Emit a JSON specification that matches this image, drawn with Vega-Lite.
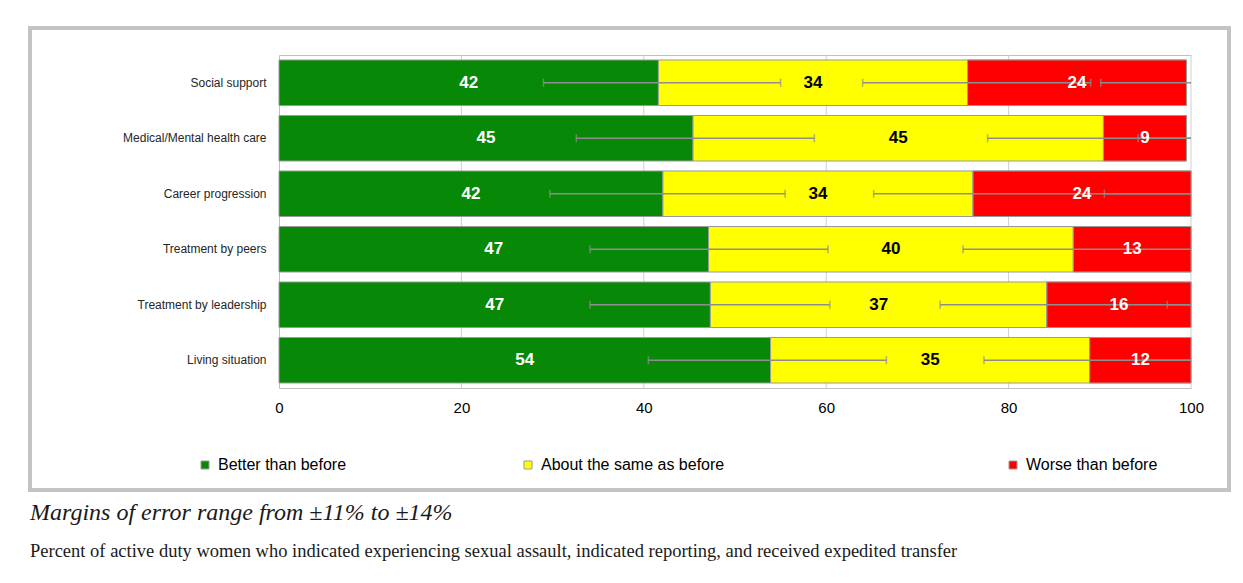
{
  "$schema": "https://vega.github.io/schema/vega-lite/v6.json",
  "width": 1199,
  "height": 462,
  "autosize": {"type": "none"},
  "padding": {"left": 30, "top": 28, "right": 14, "bottom": 93},
  "background": "white",
  "config": {
    "view": {"stroke": "#c3c3c3", "strokeWidth": 4},
    "font": "Liberation Sans"
  },
  "title": {
    "text": "Margins of error range from ±11% to ±14%",
    "subtitle": "Percent of active duty women who indicated experiencing sexual assault, indicated reporting, and received expedited transfer",
    "orient": "bottom",
    "anchor": "start",
    "offset": 11,
    "font": "Liberation Serif",
    "fontStyle": "italic",
    "fontWeight": "normal",
    "fontSize": 24,
    "color": "#1a1a1a",
    "subtitleFont": "Liberation Serif",
    "subtitleFontSize": 18.5,
    "subtitleColor": "#1a1a1a",
    "subtitlePadding": 17
  },
  "datasets": {
    "bars": [
      {"cat": "Social support", "resp": "Better than before", "k": 1, "pct": 41.6, "label": 42},
      {"cat": "Social support", "resp": "About the same as before", "k": 2, "pct": 33.9, "label": 34},
      {"cat": "Social support", "resp": "Worse than before", "k": 3, "pct": 24.0, "label": 24},
      {"cat": "Medical/Mental health care", "resp": "Better than before", "k": 1, "pct": 45.4, "label": 45},
      {"cat": "Medical/Mental health care", "resp": "About the same as before", "k": 2, "pct": 45.0, "label": 45},
      {"cat": "Medical/Mental health care", "resp": "Worse than before", "k": 3, "pct": 9.1, "label": 9},
      {"cat": "Career progression", "resp": "Better than before", "k": 1, "pct": 42.1, "label": 42},
      {"cat": "Career progression", "resp": "About the same as before", "k": 2, "pct": 34.0, "label": 34},
      {"cat": "Career progression", "resp": "Worse than before", "k": 3, "pct": 23.9, "label": 24},
      {"cat": "Treatment by peers", "resp": "Better than before", "k": 1, "pct": 47.1, "label": 47},
      {"cat": "Treatment by peers", "resp": "About the same as before", "k": 2, "pct": 40.0, "label": 40},
      {"cat": "Treatment by peers", "resp": "Worse than before", "k": 3, "pct": 12.9, "label": 13},
      {"cat": "Treatment by leadership", "resp": "Better than before", "k": 1, "pct": 47.3, "label": 47},
      {"cat": "Treatment by leadership", "resp": "About the same as before", "k": 2, "pct": 36.9, "label": 37},
      {"cat": "Treatment by leadership", "resp": "Worse than before", "k": 3, "pct": 15.8, "label": 16},
      {"cat": "Living situation", "resp": "Better than before", "k": 1, "pct": 53.9, "label": 54},
      {"cat": "Living situation", "resp": "About the same as before", "k": 2, "pct": 35.0, "label": 35},
      {"cat": "Living situation", "resp": "Worse than before", "k": 3, "pct": 11.1, "label": 12}
    ],
    "errs": [
      {"cat": "Social support", "lo": 29.0, "hi": 55.0},
      {"cat": "Social support", "lo": 64.0, "hi": 89.0},
      {"cat": "Social support", "lo": 90.1, "hi": 100},
      {"cat": "Medical/Mental health care", "lo": 32.6, "hi": 58.7},
      {"cat": "Medical/Mental health care", "lo": 77.7, "hi": 100},
      {"cat": "Medical/Mental health care", "lo": 94.2, "hi": 100},
      {"cat": "Career progression", "lo": 29.7, "hi": 55.5},
      {"cat": "Career progression", "lo": 65.2, "hi": 100},
      {"cat": "Career progression", "lo": 90.5, "hi": 100},
      {"cat": "Treatment by peers", "lo": 34.1, "hi": 60.2},
      {"cat": "Treatment by peers", "lo": 75.0, "hi": 100},
      {"cat": "Treatment by leadership", "lo": 34.1, "hi": 60.4},
      {"cat": "Treatment by leadership", "lo": 72.5, "hi": 100},
      {"cat": "Treatment by leadership", "lo": 97.4, "hi": 100},
      {"cat": "Living situation", "lo": 40.5, "hi": 66.6},
      {"cat": "Living situation", "lo": 77.3, "hi": 100},
      {"cat": "Living situation", "lo": 94.7, "hi": 100}
    ],
    "grid": [{"g": 20}, {"g": 40}, {"g": 60}, {"g": 80}, {"g": 100}]
  },
  "resolve": {"axis": {"x": "independent"}},
  "layer": [
    {
      "data": {"name": "grid"},
      "mark": {"type": "rule", "color": "#cfcfcf", "strokeWidth": 1},
      "encoding": {
        "x": {"field": "g", "type": "quantitative", "axis": null},
        "y": {"datum": "Social support", "type": "nominal", "bandPosition": -0.11},
        "y2": {"datum": "Living situation", "bandPosition": 1.11}
      }
    },
    {
      "data": {"name": "bars"},
      "transform": [
        {"stack": "pct", "groupby": ["cat"], "sort": [{"field": "k", "order": "ascending"}], "as": ["x0", "x1"]}
      ],
      "mark": {"type": "bar", "stroke": "#9a9a9a", "strokeWidth": 1},
      "encoding": {
        "y": {
          "field": "cat", "type": "nominal", "sort": null,
          "scale": {
            "domain": ["Social support", "Medical/Mental health care", "Career progression", "Treatment by peers", "Treatment by leadership", "Living situation"],
            "range": [27, 360], "paddingInner": 0.18, "paddingOuter": 0.09
          },
          "axis": {
            "title": null, "orient": "left", "offset": -249, "ticks": false, "tickSize": 0,
            "labelPadding": 13, "labelFontSize": 12, "labelColor": "#262626",
            "domainColor": "#bfbfbf", "domainWidth": 1, "grid": false, "labelFont": "Liberation Sans"
          }
        },
        "x": {
          "field": "x0", "type": "quantitative",
          "scale": {"domain": [0, 100], "range": [249, 1161], "nice": false, "zero": true},
          "axis": {
            "title": null, "orient": "bottom", "offset": -102, "values": [0, 20, 40, 60, 80, 100],
            "tickSize": 0, "labelPadding": 12, "labelFontSize": 15, "labelColor": "#000000",
            "labelFont": "Liberation Sans", "labelFlush": false, "grid": false,
            "domainColor": "#bfbfbf", "domainWidth": 1
          }
        },
        "x2": {"field": "x1"},
        "color": {
          "field": "resp", "type": "nominal",
          "scale": {
            "domain": ["Better than before", "About the same as before", "Worse than before"],
            "range": ["#078807", "#FFFF00", "#FF0000"]
          },
          "legend": {
            "title": null, "orient": "none", "direction": "horizontal",
            "values": ["Better than before", "About the same as before"],
            "legendX": 167, "legendY": 429, "padding": 0,
            "symbolType": "square", "symbolSize": 64, "symbolStrokeWidth": 1,
            "labelFontSize": 16, "labelFont": "Liberation Sans", "labelColor": "#000000",
            "labelOffset": 5, "columnPadding": 173, "labelLimit": 400
          }
        }
      }
    },
    {
      "data": {"name": "bars"},
      "transform": [
        {"stack": "pct", "groupby": ["cat"], "sort": [{"field": "k", "order": "ascending"}], "as": ["x0", "x1"]},
        {"filter": "datum.k === 3"}
      ],
      "mark": {"type": "bar", "stroke": "#9a9a9a", "strokeWidth": 1},
      "encoding": {
        "y": {"field": "cat", "type": "nominal", "sort": null},
        "x": {"field": "x0", "type": "quantitative", "axis": null},
        "x2": {"field": "x1"},
        "fill": {
          "field": "resp", "type": "nominal",
          "scale": {"domain": ["Worse than before"], "range": ["#FF0000"]},
          "legend": {
            "title": null, "orient": "none", "direction": "horizontal",
            "legendX": 975, "legendY": 429, "padding": 0,
            "symbolType": "square", "symbolSize": 64, "symbolStrokeWidth": 1,
            "labelFontSize": 16, "labelFont": "Liberation Sans", "labelColor": "#000000",
            "labelOffset": 5, "labelLimit": 400
          }
        }
      }
    },
    {
      "data": {"name": "errs"},
      "mark": {"type": "rule", "color": "#8e8e8e", "strokeWidth": 1.5},
      "encoding": {
        "y": {"field": "cat", "type": "nominal", "sort": null},
        "x": {"field": "lo", "type": "quantitative", "axis": {
            "title": null, "orient": "top", "offset": -27, "labels": false, "ticks": false,
            "grid": false, "domainColor": "#bfbfbf", "domainWidth": 1
          }},
        "x2": {"field": "hi"}
      }
    },
    {
      "data": {"name": "errs"},
      "mark": {"type": "tick", "color": "#8e8e8e", "thickness": 1.5, "size": 8, "orient": "vertical"},
      "encoding": {
        "y": {"field": "cat", "type": "nominal", "sort": null},
        "x": {"field": "lo", "type": "quantitative", "axis": null}
      }
    },
    {
      "data": {"name": "errs"},
      "transform": [{"filter": "datum.hi < 100"}],
      "mark": {"type": "tick", "color": "#8e8e8e", "thickness": 1.5, "size": 8, "orient": "vertical"},
      "encoding": {
        "y": {"field": "cat", "type": "nominal", "sort": null},
        "x": {"field": "hi", "type": "quantitative", "axis": null}
      }
    },
    {
      "data": {"name": "bars"},
      "transform": [
        {"stack": "pct", "groupby": ["cat"], "sort": [{"field": "k", "order": "ascending"}], "as": ["x0", "x1"]},
        {"calculate": "(datum.x0 + datum.x1) / 2", "as": "xm"}
      ],
      "mark": {"type": "text", "fontSize": 17, "fontWeight": "bold", "font": "Liberation Sans", "baseline": "middle", "align": "center"},
      "encoding": {
        "y": {"field": "cat", "type": "nominal", "sort": null},
        "x": {"field": "xm", "type": "quantitative", "axis": null},
        "text": {"field": "label", "type": "quantitative"},
        "color": {
          "condition": {"test": "datum.resp === 'About the same as before'", "value": "#000000"},
          "value": "#ffffff"
        }
      }
    }
  ]
}
